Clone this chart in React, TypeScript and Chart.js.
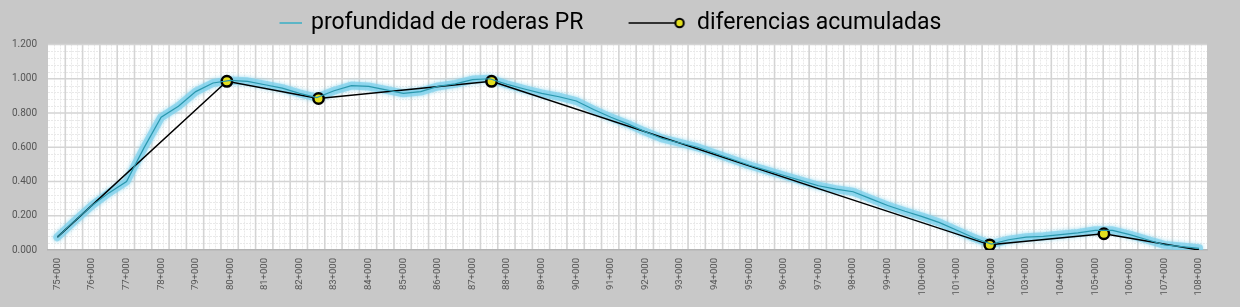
import { useEffect, useRef } from "react";
import { Chart, registerables } from "chart.js";

Chart.register(...registerables);

// ---------- data ----------
const SERIES_NAMES = ["profundidad de roderas PR", "diferencias acumuladas"];

const PR_KM = [
  75, 75.5, 76, 76.5, 77, 77.5, 78, 78.5, 79, 79.5, 80, 80.5, 81, 81.5, 82, 82.5,
  83, 83.5, 84, 84.5, 85, 85.5, 86, 86.5, 87, 87.5, 88, 88.5, 89, 89.5, 90, 90.5,
  91, 91.5, 92, 92.5, 93, 93.5, 94, 94.5, 95, 95.5, 96, 96.5, 97, 97.5, 98, 98.5,
  99, 99.5, 100, 100.5, 101, 101.5, 102, 102.5, 103, 103.5, 104, 104.5, 105, 105.5,
  106, 106.5, 107, 107.5, 108,
];
const PR_VAL = [
  0.075, 0.17, 0.26, 0.335, 0.4, 0.595, 0.775, 0.84, 0.925, 0.975, 0.99, 0.985, 0.965, 0.945, 0.915, 0.89,
  0.93, 0.96, 0.955, 0.935, 0.915, 0.925, 0.955, 0.97, 0.995, 1.0, 0.967, 0.94, 0.915, 0.895, 0.87, 0.82,
  0.775, 0.735, 0.69, 0.65, 0.625, 0.6, 0.565, 0.53, 0.495, 0.465, 0.435, 0.405, 0.375, 0.355, 0.34, 0.3,
  0.26, 0.226, 0.195, 0.16, 0.115, 0.07, 0.035, 0.06, 0.075, 0.08, 0.09, 0.1, 0.115, 0.115,
  0.09, 0.06, 0.03, 0.02, 0.01,
];

const DA_KM = [75, 79.9, 82.55, 87.55, 101.95, 105.25, 108];
const DA_VAL = [0.075, 0.985, 0.885, 0.985, 0.03, 0.095, 0.0];

const X_TICKS = [
  75, 76, 77, 78, 79, 80, 81, 82, 83, 84, 85, 86, 87, 88, 89, 90, 91,
  92, 93, 94, 95, 96, 97, 98, 99, 100, 101, 102, 103, 104, 105, 106, 107, 108,
];
const Y_TICKS = [0, 0.2, 0.4, 0.6, 0.8, 1.0, 1.2];

const X_MIN = 74.73;
const X_MAX = 108.23;
const Y_MIN = 0;
const Y_MAX = 1.2;

// ---------- plugins ----------
const gridPlugin = {
  id: "excelGrid",
  beforeDraw(chart: any) {
    const { ctx, chartArea: a, scales } = chart;
    const x = scales.x;
    const y = scales.y;
    ctx.save();
    ctx.fillStyle = "#c8c8c8";
    ctx.fillRect(0, 0, chart.width, chart.height);
    ctx.fillStyle = "#ffffff";
    ctx.fillRect(a.left, a.top, a.right - a.left, a.bottom - a.top);

    // minor grid
    ctx.strokeStyle = "#e9e9e9";
    ctx.lineWidth = 1;
    ctx.setLineDash([2, 1]);
    ctx.beginPath();
    for (let i = 1; i < 30; i++) {
      if (i % 5 === 0) continue;
      const py = Math.round(y.getPixelForValue(Y_MIN + i * 0.04)) + 0.5;
      ctx.moveTo(a.left, py);
      ctx.lineTo(a.right, py);
    }
    const nMajorX = Math.round((X_MAX - X_MIN) / 0.5);
    for (let i = 1; i < nMajorX * 3; i++) {
      if (i % 3 === 0) continue;
      const px = Math.round(x.getPixelForValue(X_MIN + (i * 0.5) / 3)) + 0.5;
      ctx.moveTo(px, a.top);
      ctx.lineTo(px, a.bottom);
    }
    ctx.stroke();

    // major grid
    ctx.setLineDash([]);
    ctx.strokeStyle = "#d4d4d4";
    ctx.lineWidth = 1.6;
    ctx.beginPath();
    for (const v of Y_TICKS) {
      if (v === Y_MIN) continue;
      const py = y.getPixelForValue(v);
      ctx.moveTo(a.left, py);
      ctx.lineTo(a.right, py);
    }
    for (let i = 1; i < nMajorX; i++) {
      const px = x.getPixelForValue(X_MIN + i * 0.5);
      ctx.moveTo(px, a.top);
      ctx.lineTo(px, a.bottom);
    }
    ctx.stroke();
    ctx.restore();
  },
};

const glowPlugin = {
  id: "glowShadow",
  beforeDatasetDraw(chart: any, args: any) {
    if (args.index === 0) {
      chart.ctx.save();
      chart.ctx.shadowColor = "rgba(110,205,235,0.9)";
      chart.ctx.shadowBlur = 4;
    }
  },
  afterDatasetDraw(chart: any, args: any) {
    if (args.index === 0) chart.ctx.restore();
  },
};

const LEGEND_START_X = 207.5;
const legendShiftPlugin = {
  id: "legendShift",
  afterLayout(chart: any) {
    const lg = chart.legend;
    if (!lg || !lg.lineWidths) return;
    const pad = lg.options.labels.padding;
    const start = (lg.left + pad + lg.right - lg.lineWidths[0]) / 2;
    const d = LEGEND_START_X - start;
    lg.left += d;
    lg.right += d;
  },
};

function makeLegendImages() {
  const c1 = document.createElement("canvas");
  c1.width = 96;
  c1.height = 12;
  const g1 = c1.getContext("2d")!;
  g1.strokeStyle = "#5cb5c6";
  g1.lineWidth = 2;
  g1.beginPath();
  g1.moveTo(74, 6);
  g1.lineTo(96, 6);
  g1.stroke();

  const c2 = document.createElement("canvas");
  c2.width = 96;
  c2.height = 14;
  const g2 = c2.getContext("2d")!;
  g2.strokeStyle = "#000000";
  g2.lineWidth = 1.5;
  g2.beginPath();
  g2.moveTo(37, 7);
  g2.lineTo(84, 7);
  g2.stroke();
  g2.beginPath();
  g2.arc(88, 7, 4.2, 0, Math.PI * 2);
  g2.fillStyle = "#e4df1e";
  g2.fill();
  g2.lineWidth = 2;
  g2.stroke();
  return [c1, c2];
}

export default function App() {
  const ref = useRef<HTMLCanvasElement | null>(null);

  useEffect(() => {
    if (!ref.current) return;
    Chart.defaults.font.family = "Roboto";
    const [img1, img2] = makeLegendImages();
    const prData = PR_KM.map((x, i) => ({ x, y: PR_VAL[i] }));
    const daData = DA_KM.map((x, i) => ({ x, y: DA_VAL[i] }));
    const lastDA = DA_KM.length - 1;

    const chart = new Chart(ref.current, {
      type: "line",
      data: {
        datasets: [
          {
            label: "glow",
            data: prData,
            borderColor: "rgba(125,208,235,0.7)",
            borderWidth: 8,
            borderJoinStyle: "round",
            borderCapStyle: "round",
            pointRadius: 0,
            tension: 0,
            order: 3,
          },
          {
            label: SERIES_NAMES[1],
            data: daData,
            borderColor: "#000000",
            borderWidth: 1.5,
            pointRadius: (c: any) => (c.dataIndex === 0 || c.dataIndex === lastDA ? 0 : 5.2),
            pointBackgroundColor: "#e4df1e",
            pointBorderColor: "#000000",
            pointBorderWidth: 2.5,
            tension: 0,
            order: 2,
          },
          {
            label: SERIES_NAMES[0],
            data: prData,
            borderColor: "#2b98ae",
            borderWidth: 1.2,
            pointRadius: 0,
            tension: 0,
            order: 1,
          },
        ],
      },
      options: {
        responsive: false,
        animation: false,
        devicePixelRatio: 1,
        layout: { padding: { top: 1.5, right: 33, left: 0, bottom: 0 } },
        plugins: {
          tooltip: { enabled: false },
          legend: {
            display: true,
            position: "top",
            align: "center",
            labels: {
              usePointStyle: true,
              pointStyleWidth: 92,
              padding: 10,
              color: "#1e1e1e",
              font: { family: "Roboto", size: 23 },
              generateLabels: () => [
                {
                  text: SERIES_NAMES[0],
                  pointStyle: img1 as any,
                  fillStyle: "rgba(0,0,0,0)",
                  strokeStyle: "rgba(0,0,0,0)",
                  lineWidth: 0,
                  hidden: false,
                  datasetIndex: 2,
                },
                {
                  text: SERIES_NAMES[1],
                  pointStyle: img2 as any,
                  fillStyle: "rgba(0,0,0,0)",
                  strokeStyle: "rgba(0,0,0,0)",
                  lineWidth: 0,
                  hidden: false,
                  datasetIndex: 1,
                },
              ],
            },
          },
        },
        scales: {
          x: {
            type: "linear",
            min: X_MIN,
            max: X_MAX,
            afterBuildTicks: (s: any) => {
              s.ticks = X_TICKS.map((v) => ({ value: v }));
            },
            afterFit: (s: any) => {
              s.height = 57;
            },
            ticks: {
              autoSkip: false,
              minRotation: 90,
              maxRotation: 90,
              padding: 8,
              color: "#555555",
              font: { size: 9.5 },
              callback: (v: any) => `${v}+000`,
            },
            grid: { display: false, drawTicks: false },
            border: { display: true, color: "#b4b4b4", width: 1.5 },
          },
          y: {
            type: "linear",
            min: Y_MIN,
            max: Y_MAX,
            afterBuildTicks: (s: any) => {
              s.ticks = Y_TICKS.map((v) => ({ value: v }));
            },
            afterFit: (s: any) => {
              s.width = 48;
            },
            ticks: {
              padding: 11,
              color: "#555555",
              font: { size: 10 },
              callback: (v: any) => Number(v).toFixed(3),
            },
            grid: { display: false, drawTicks: false },
            border: { display: false },
          },
        },
      },
      plugins: [gridPlugin, glowPlugin, legendShiftPlugin],
    } as any);

    return () => chart.destroy();
  }, []);

  return (
    <div
      style={{
        position: "fixed",
        left: 0,
        top: 0,
        width: 1240,
        height: 307,
        background: "#c8c8c8",
      }}
    >
      <canvas ref={ref} width={1240} height={307} style={{ display: "block" }} />
    </div>
  );
}
